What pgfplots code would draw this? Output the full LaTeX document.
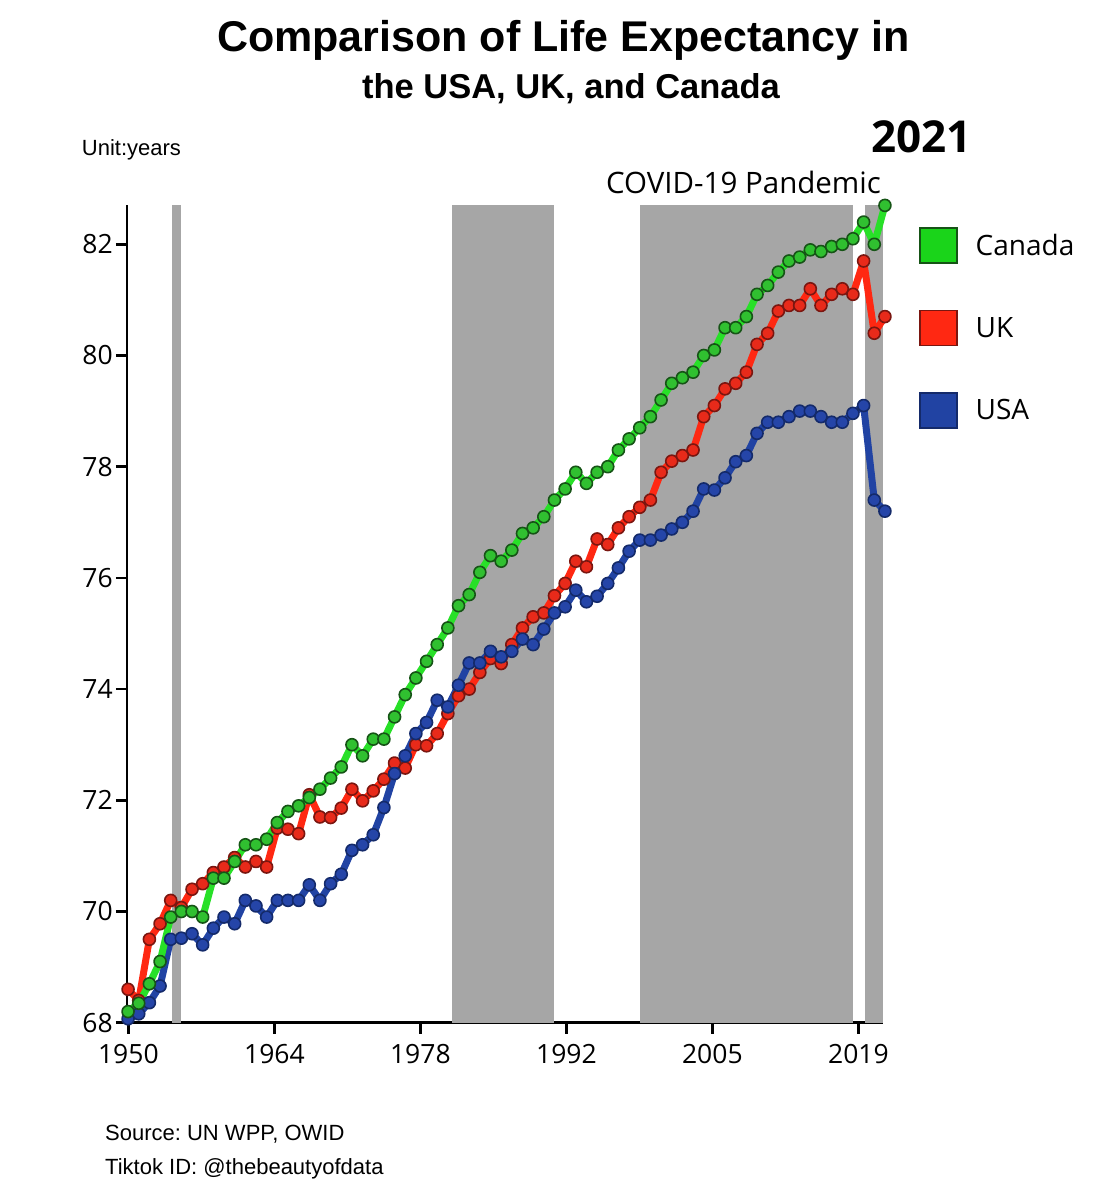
\documentclass[border=0pt]{standalone}
\usepackage{fontspec}
\setmainfont{Liberation Sans}
\newfontfamily\osans{Open Sans}
\usepackage{pgfplots}
\usepackage{pgfplotstable}
\pgfplotsset{compat=1.18}
\frenchspacing

\definecolor{bandgray}{RGB}{166,166,166}
\definecolor{greenline}{RGB}{40,224,40}
\definecolor{greenfill}{RGB}{48,192,48}
\definecolor{greenedge}{RGB}{22,84,22}
\definecolor{greenleg}{RGB}{26,212,26}
\definecolor{redline}{RGB}{255,40,18}
\definecolor{redfill}{RGB}{232,42,26}
\definecolor{rededge}{RGB}{122,22,16}
\definecolor{blueline}{RGB}{33,67,163}
\definecolor{bluefill}{RGB}{37,69,168}
\definecolor{blueedge}{RGB}{20,42,106}

\pgfplotstableread{
year can uk usa
1950 68.20 68.60 68.07
1951 68.35 68.40 68.16
1952 68.70 69.50 68.36
1953 69.10 69.78 68.66
1954 69.90 70.20 69.50
1955 70.00 70.07 69.52
1956 70.00 70.40 69.60
1957 69.90 70.50 69.40
1958 70.60 70.70 69.70
1959 70.60 70.80 69.90
1960 70.90 70.97 69.78
1961 71.20 70.80 70.20
1962 71.20 70.90 70.10
1963 71.30 70.80 69.90
1964 71.60 71.50 70.20
1965 71.80 71.48 70.20
1966 71.90 71.40 70.20
1967 72.05 72.10 70.48
1968 72.20 71.70 70.20
1969 72.40 71.69 70.50
1970 72.60 71.86 70.67
1971 73.00 72.20 71.10
1972 72.80 71.99 71.20
1973 73.10 72.17 71.38
1974 73.10 72.38 71.87
1975 73.50 72.67 72.48
1976 73.90 72.58 72.80
1977 74.20 73.00 73.20
1978 74.50 72.98 73.40
1979 74.80 73.20 73.80
1980 75.10 73.56 73.68
1981 75.50 73.88 74.07
1982 75.70 74.00 74.47
1983 76.10 74.30 74.47
1984 76.40 74.55 74.68
1985 76.30 74.46 74.58
1986 76.50 74.80 74.68
1987 76.80 75.10 74.90
1988 76.90 75.30 74.80
1989 77.10 75.37 75.08
1990 77.40 75.68 75.37
1991 77.60 75.90 75.48
1992 77.90 76.30 75.78
1993 77.70 76.20 75.57
1994 77.90 76.70 75.67
1995 78.00 76.60 75.90
1996 78.30 76.90 76.18
1997 78.50 77.10 76.48
1998 78.70 77.27 76.68
1999 78.90 77.40 76.68
2000 79.20 77.90 76.77
2001 79.50 78.10 76.88
2002 79.60 78.20 77.00
2003 79.70 78.30 77.20
2004 80.00 78.90 77.60
2005 80.10 79.10 77.58
2006 80.50 79.40 77.80
2007 80.50 79.50 78.09
2008 80.70 79.70 78.20
2009 81.10 80.20 78.60
2010 81.26 80.40 78.80
2011 81.50 80.80 78.80
2012 81.70 80.90 78.90
2013 81.77 80.90 79.00
2014 81.90 81.20 79.00
2015 81.87 80.90 78.90
2016 81.96 81.10 78.80
2017 82.00 81.20 78.80
2018 82.10 81.10 78.96
2019 82.40 81.70 79.10
2020 82.00 80.40 77.40
2021 82.70 80.70 77.20
}\lifetable

\begin{document}
\begin{tikzpicture}
\useasboundingbox (0pt,0pt) rectangle (1113pt,1200pt);
\begin{axis}[
  at={(127pt,177.3pt)}, anchor=south west,
  scale only axis, width=755.7pt, height=817.7pt,
  xmin=1949.9, xmax=2020.79, ymin=68, ymax=82.707,
  clip=false,
  axis x line=bottom, axis y line=left,
  axis line style={-, line width=2.7pt, black},
  tick align=outside, major tick length=11pt,
  every tick/.style={black, line width=2.5pt},
  xtick={1950.03,1963.73,1977.42,1991.12,2004.81,2018.51},
  xticklabels={1950,1964,1978,1992,2005,2019},
  ytick={68,70,72,74,76,78,80,82},
  /pgf/number format/assume math mode=true,
  tick label style={font=\osans\fontsize{26.5}{30}\selectfont, inner sep=0pt},
  xticklabel style={anchor=north, yshift=-10pt},
  yticklabel style={anchor=east, xshift=-3pt},
  legend cell align=left,
  legend image code/.code={\draw[#1, line width=1.2pt] (0pt,-17.5pt) rectangle (37pt,17.5pt);},
  legend style={at={(1.0486,0.9726)}, anchor=north west, draw=none, fill=none,
    inner sep=0pt, outer sep=0pt, row sep=46.3pt,
    font=\osans\fontsize{28}{34}\selectfont,
    nodes={inner sep=0pt},
    /tikz/every odd column/.append style={column sep=18pt}},
]
\addlegendimage{fill=greenleg, draw=greenedge}
\addlegendentry{Canada}
\addlegendimage{fill=redline, draw=rededge}
\addlegendentry{UK}
\addlegendimage{fill=blueline, draw=blueedge}
\addlegendentry{USA}

\addplot[fill=bandgray, draw=none, forget plot] coordinates {(1954.15,68) (1954.15,82.707) (1954.97,82.707) (1954.97,68)} -- cycle;
\addplot[fill=bandgray, draw=none, forget plot] coordinates {(1980.36,68) (1980.36,82.707) (1989.96,82.707) (1989.96,68)} -- cycle;
\addplot[fill=bandgray, draw=none, forget plot] coordinates {(1998.02,68) (1998.02,82.707) (2018.0,82.707) (2018.0,68)} -- cycle;
\addplot[fill=bandgray, draw=none, forget plot] coordinates {(2019.12,68) (2019.12,82.707) (2020.79,82.707) (2020.79,68)} -- cycle;

\addplot[forget plot, color=redline, line width=7pt, line join=round, mark=*, mark size=6pt,
  mark options={fill=redfill, draw=rededge, line width=1.6pt}] table[x=year, y=uk] {\lifetable};
\addplot[forget plot, color=blueline, line width=7pt, line join=round, mark=*, mark size=6pt,
  mark options={fill=bluefill, draw=blueedge, line width=1.6pt}] table[x=year, y=usa] {\lifetable};
\addplot[forget plot, color=greenline, line width=7pt, line join=round, mark=*, mark size=6pt,
  mark options={fill=greenfill, draw=greenedge, line width=1.6pt}] table[x=year, y=can] {\lifetable};
\end{axis}

\node[anchor=base, font=\bfseries\fontsize{43}{50}\selectfont] at (563.5pt,1148pt) {Comparison of Life Expectancy in};
\node[anchor=base, font=\bfseries\fontsize{34.5}{40}\selectfont] at (571pt,1101pt) {the USA, UK, and Canada};
\node[anchor=base west, inner sep=0pt, font=\fontsize{22}{26}\selectfont] at (81.7pt,1044pt) {Unit:years};
\node[anchor=base east, inner sep=0pt, font=\osans\bfseries\fontsize{44}{50}\selectfont] at (972pt,1047pt) {2021};
\node[anchor=base west, inner sep=0pt, font=\osans\fontsize{29.5}{34}\selectfont] at (606pt,1006.7pt) {COVID-19 Pandemic};
\node[anchor=base west, inner sep=0pt, font=\fontsize{22}{26}\selectfont] at (105pt,59.3pt) {Source: UN WPP, OWID};
\node[anchor=base west, inner sep=0pt, font=\fontsize{22}{26}\selectfont] at (105pt,25pt) {Tiktok ID: @thebeautyofdata};
\end{tikzpicture}
\end{document}
